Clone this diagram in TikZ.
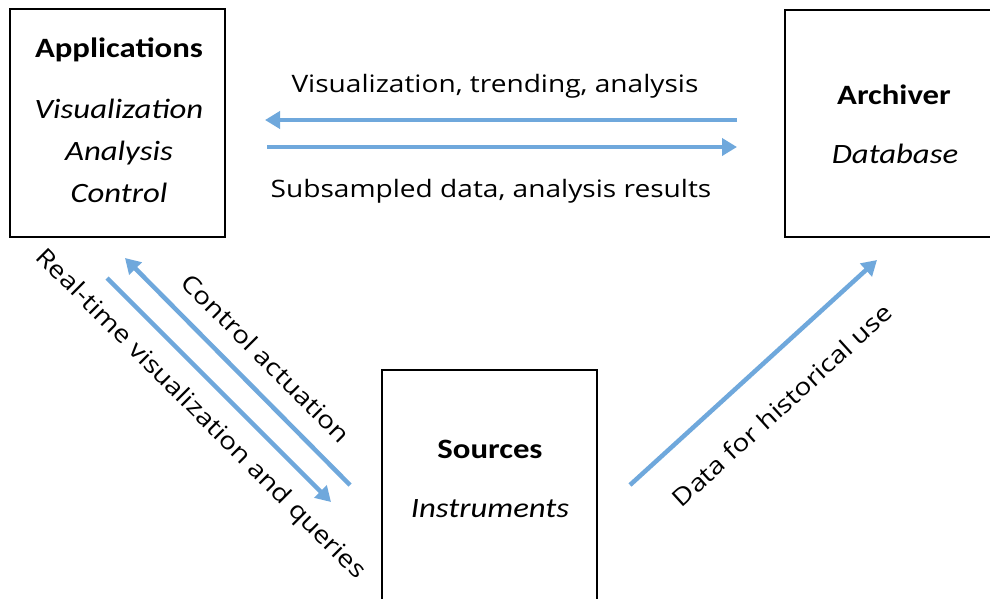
\documentclass[tikz,border=0pt]{standalone}
\usepackage{fontspec}
\setmainfont{Carlito}
\newfontfamily\lblfont{Open Sans}
\usetikzlibrary{arrows.meta}
\definecolor{arrowblue}{RGB}{111,168,220}
\newcommand{\wide}[1]{\scalebox{1.17}[1]{#1}}
\tikzset{
  box/.style={draw=black, line width=2pt, fill=none},
  flow/.style={draw=arrowblue, line width=4.5pt, -{Triangle[length=15pt,width=17pt]}},
  title/.style={font=\fontsize{28}{30}\selectfont\bfseries, inner sep=0pt, anchor=base},
  sub/.style={font=\fontsize{28}{30}\selectfont\itshape, inner sep=0pt, anchor=base},
  lbl/.style={font=\lblfont\fontsize{24}{26}\selectfont, inner sep=0pt},
}
\begin{document}
\begin{tikzpicture}[x=1pt,y=-1pt]
\useasboundingbox (0,0) rectangle (990,598);
\clip (0,0) rectangle (990,598);
\fill[white] (0,0) rectangle (990,598);
% boxes
\draw[box] (10,9) rectangle (225,237);
\draw[box] (785,10) rectangle (1000,237);
\draw[box] (382,370) rectangle (597,620);
% texts
\node[title] (t1) at (119,57) {\wide{Applications}};
\node[sub] (t2) at (119,118) {\wide{Visualization}};
\node[sub] (t3) at (119,160) {\wide{Analysis}};
\node[sub] (t4) at (119,202) {\wide{Control}};
\node[title] (t5) at (894,104) {\wide{Archiver}};
\node[sub] (t6) at (895,163) {\wide{Database}};
\node[title] (t7) at (490,458) {\wide{Sources}};
\node[sub] (t8) at (490,517) {\wide{Instruments}};
% horizontal arrows
\coordinate (a1s) at (737,120);
\coordinate (a1e) at (265,120);
\coordinate (a2s) at (267,147);
\coordinate (a2e) at (737,147);
\draw[flow] (a1s) -- (a1e);
\draw[flow] (a2s) -- (a2e);
\node[lbl, anchor=base] (l1) at (495,92) {\wide{Visualization, trending, analysis}};
\node[lbl, anchor=base] (l2) at (491,197) {\wide{Subsampled data, analysis results}};
% diagonal arrows
\coordinate (c1s) at (350,485);
\coordinate (c1e) at (125,258);
\coordinate (c2s) at (107,278);
\coordinate (c2e) at (331,502);
\draw[flow] (c1s) -- (c1e);
\draw[flow] (c2s) -- (c2e);
\node[lbl, rotate=-45] (l3) at (266,358) {\wide{Control actuation}};
\node[lbl, rotate=-45] (l4) at (200,415) {\wide{Real-time visualization and queries}};
\coordinate (d1s) at (630,485);
\coordinate (d1e) at (877,260);
\draw[flow] (d1s) -- (d1e);
\node[lbl, rotate=42.3] (l5) at (782,405) {\wide{Data for historical use}};
\end{tikzpicture}
\end{document}
